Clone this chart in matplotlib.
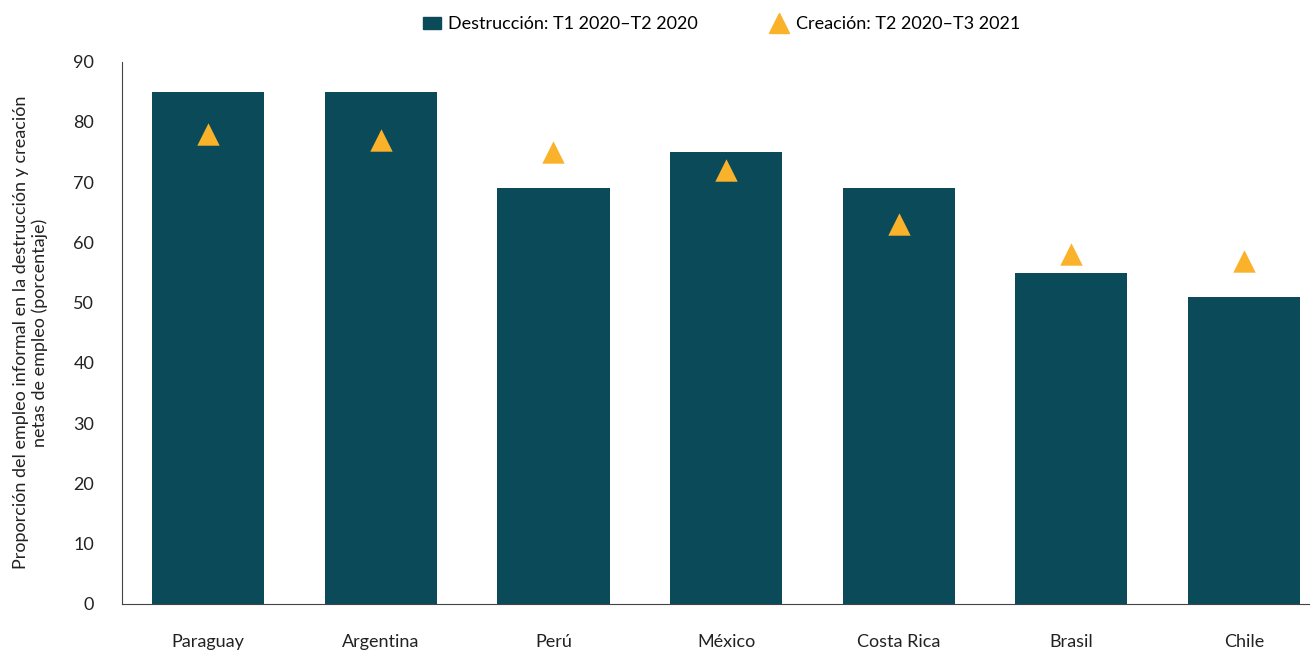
import matplotlib
matplotlib.use("Agg")
import matplotlib.pyplot as plt
from matplotlib.lines import Line2D
from matplotlib.patches import Patch

plt.rcParams['font.family'] = ['Lato', 'DejaVu Sans']

countries = ["Paraguay", "Argentina", "Perú", "México", "Costa Rica", "Brasil", "Chile"]
destruccion = [85, 85, 69, 75, 69, 55, 51]
creacion = [78, 77, 75, 72, 63, 58, 57]

fig = plt.figure(figsize=(13.12, 6.5), dpi=100)
ax = fig.add_axes([0.093, 0.071, 0.905, 0.834])
x = list(range(len(countries)))
ax.bar(x, destruccion, width=0.65, color="#0b4a58")
ax.scatter(x, creacion, marker="^", s=260, color="#fbb22b", zorder=3, linewidths=0)
ax.set_xlim(-0.5, 6.38)
ax.set_ylim(0, 90)
ax.set_yticks(range(0, 91, 10))
ax.set_xticks(x)
ax.set_xticklabels(countries)
ax.tick_params(axis='both', labelsize=13, colors="#222222", length=0)
ax.tick_params(axis='x', pad=22)
ax.tick_params(axis='y', pad=20)
for s in ["top", "right"]:
    ax.spines[s].set_visible(False)
for s in ["left", "bottom"]:
    ax.spines[s].set_color("#444444")
ax.set_ylabel("Proporción del empleo informal en la destrucción y creación\nnetas de empleo (porcentaje)",
              fontsize=13, color="#222222", labelpad=18)
handles = [Patch(color="#0b4a58", label="Destrucción: T1 2020–T2 2020"),
           Line2D([], [], marker="^", color="#fbb22b", linestyle="none", markersize=14,
                  label="Creación: T2 2020–T3 2021")]
fig.legend(handles=handles, loc="upper center", bbox_to_anchor=(0.55, 1.0), ncol=2,
           frameon=False, fontsize=13, handlelength=1.0, columnspacing=4, handletextpad=0.4)
fig.savefig("out.png", dpi=100)
